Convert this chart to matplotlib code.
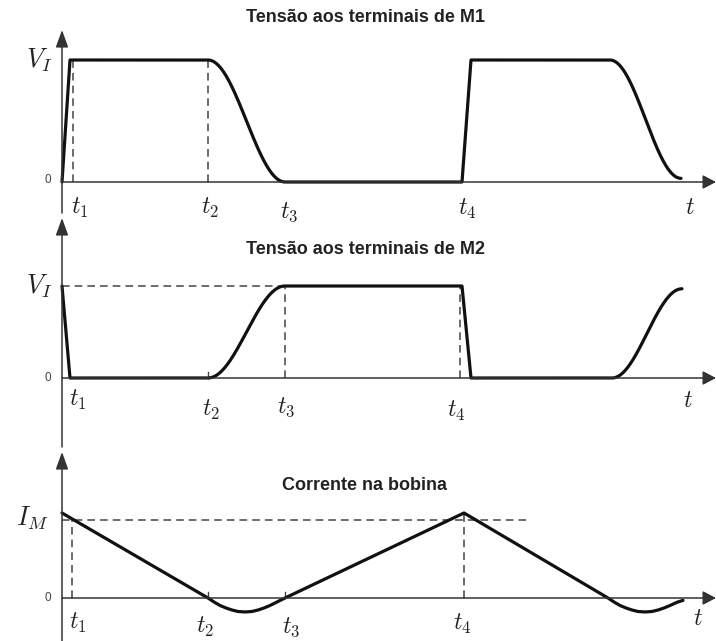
import numpy as np
import matplotlib
matplotlib.use("Agg")
import matplotlib.pyplot as plt

plt.rcParams["mathtext.fontset"] = "cm"

# tempos de comutação (mesma escala nos três gráficos)
t1, t2, t3, t4 = 1.1, 14.6, 22.3, 40.0

# tensão em M1: pontos de quebra e forma de cada troço
m1_t = [0.0, 0.8, 14.6, 22.3, 40.0, 40.9, 54.8, 61.9]
m1_v = [0.0, 1.0, 1.0, 0.0, 0.0, 1.0, 1.0, 0.03]
m1_shape = ["lin", "lin", "cos", "lin", "lin", "lin", "cos"]

# tensão em M2
m2_t = [0.0, 0.8, 14.6, 22.3, 40.0, 40.9, 55.0, 62.0]
m2_v = [1.0, 0.0, 0.0, 1.0, 1.0, 0.0, 0.0, 0.97]
m2_shape = ["lin", "lin", "cos", "lin", "lin", "lin", "cos"]

# corrente na bobina
i_t = [0.0, 14.6, 15.2, 15.8, 16.4, 17.0, 17.6, 18.3, 19.0, 19.6, 20.2, 20.8, 21.5, 22.3,
       40.2, 54.6, 55.2, 55.8, 56.4, 57.0, 57.6, 58.3, 59.0, 59.6, 60.2, 60.8, 61.5, 62.1]
i_v = [1.09, 0.0, -0.051, -0.096, -0.128, -0.154, -0.173, -0.179, -0.173, -0.154,
       -0.128, -0.096, -0.051, 0.0,
       1.09, 0.0, -0.051, -0.096, -0.128, -0.154, -0.173, -0.179, -0.173, -0.154,
       -0.128, -0.096, -0.055, -0.03]

W, H = 716, 641
X0 = 62          # posição do eixo vertical (px)
TS = 10.0        # px por unidade de tempo

fig = plt.figure(figsize=(W / 100, H / 100), dpi=100)

CURVE = dict(color="#111111", lw=2.3, solid_capstyle="round", solid_joinstyle="round")
DASH = dict(color="#444444", lw=1.1, dashes=(5, 3.3))
MATH = dict(fontsize=17, color="#222222")
BIG = dict(fontsize=19, color="#222222")
TITLE = dict(fontsize=13, fontweight="bold", family="Liberation Sans", color="#222222")
ZERO = dict(fontsize=8.5, family="Liberation Sans", color="#444444")


def panel(top, bottom, y0, y1):
    """Eixos que ocupam a faixa [top, bottom] (px); y0/y1 = px dos níveis 0 e 1."""
    ax = fig.add_axes([0, 1 - bottom / H, 1, (bottom - top) / H])
    s = y0 - y1
    ax.set_xlim(-X0 / TS, (W - X0) / TS)
    ax.set_ylim(-(bottom - y0) / s, (y0 - top) / s)
    ax.axis("off")
    py = lambda p: (y0 - p) / s
    return ax, py


def waveform(t, v, shape, n=80):
    xs, ys = [], []
    for i in range(len(t) - 1):
        u = np.linspace(0, 1, n)
        w = (1 - np.cos(np.pi * u)) / 2 if shape[i] == "cos" else u
        xs.append(t[i] + (t[i + 1] - t[i]) * u)
        ys.append(v[i] + (v[i + 1] - v[i]) * w)
    return np.concatenate(xs), np.concatenate(ys)


def axes_arrows(ax, py, y_top_px, y_bot_px, y_axis_px):
    arr = dict(arrowstyle="-|>,head_length=1.05,head_width=0.38", color="#333333",
               lw=1.1, shrinkA=0, shrinkB=0, mutation_scale=10)
    ax.annotate("", xy=(0, py(y_top_px)), xytext=(0, py(y_bot_px)),
                arrowprops=arr, annotation_clip=False)
    ax.annotate("", xy=((W - X0) / TS, py(y_axis_px)), xytext=(0, py(y_axis_px)),
                arrowprops=dict(arr, arrowstyle="-|>,head_length=0.8,head_width=0.42"),
                annotation_clip=False)


def tick(ax, x, h):
    ax.plot([x, x], [0, h], color="#444444", lw=1.0)


# ---------- Tensão aos terminais de M1 ----------
ax1, py1 = panel(0, 216, 182, 60)
axes_arrows(ax1, py1, 30, 213, 182)
ax1.plot([t1, t1], [0, 1], **DASH)
ax1.plot([t2, t2], [0, 1], **DASH)
x, y = waveform(m1_t, m1_v, m1_shape)
ax1.plot(x, y, **CURVE)
ax1.text(30.3, py1(17), "Tensão aos terminais de M1", ha="center", va="center", **TITLE)
ax1.text(-0.9, py1(60), r"$V_I$", ha="right", va="center", **BIG)
ax1.text(-1.45, py1(180), "0", ha="center", va="center", **ZERO)
for lab, xx, yy in [(r"$t_1$", 1.8, 208), (r"$t_2$", 14.8, 208), (r"$t_3$", 22.7, 212),
                    (r"$t_4$", 40.5, 209), (r"$t$", 62.8, 207)]:
    ax1.text(xx, py1(yy), lab, ha="center", va="center", **MATH)

# ---------- Tensão aos terminais de M2 ----------
ax2, py2 = panel(216, 450, 378, 286)
axes_arrows(ax2, py2, 218, 447, 378)
ax2.plot([0, t3], [1, 1], **DASH)
ax2.plot([t3, t3], [0, 1], **DASH)
ax2.plot([39.8, 39.8], [0, 1], **DASH)
tick(ax2, t2, 0.06)
x, y = waveform(m2_t, m2_v, m2_shape)
ax2.plot(x, y, **CURVE)
ax2.text(30.3, py2(250), "Tensão aos terminais de M2", ha="center", va="center", **TITLE)
ax2.text(-0.9, py2(286), r"$V_I$", ha="right", va="center", **BIG)
ax2.text(-1.45, py2(378), "0", ha="center", va="center", **ZERO)
for lab, xx, yy in [(r"$t_1$", 1.6, 400), (r"$t_2$", 14.9, 410), (r"$t_3$", 22.4, 407),
                    (r"$t_4$", 39.4, 411), (r"$t$", 62.6, 400)]:
    ax2.text(xx, py2(yy), lab, ha="center", va="center", **MATH)

# ---------- Corrente na bobina ----------
ax3, py3 = panel(450, 641, 598, 520)
axes_arrows(ax3, py3, 452, 641, 598)
ax3.plot([0, 46.5], [1, 1], **DASH)
ax3.plot([1.0, 1.0], [0, 1], **DASH)
ax3.plot([40.2, 40.2], [0, 1.09], **DASH)
tick(ax3, t2, 0.08)
tick(ax3, t3, 0.08)
ax3.plot(i_t, i_v, **CURVE)
ax3.text(30.3, py3(485), "Corrente na bobina", ha="center", va="center", **TITLE)
ax3.text(-1.3, py3(518), r"$I_M$", ha="right", va="center", **BIG)
ax3.text(-1.45, py3(598), "0", ha="center", va="center", **ZERO)
for lab, xx, yy in [(r"$t_1$", 1.6, 623), (r"$t_2$", 14.3, 627), (r"$t_3$", 22.9, 627),
                    (r"$t_4$", 40.0, 624), (r"$t$", 63.6, 618)]:
    ax3.text(xx, py3(yy), lab, ha="center", va="center", **MATH)

fig.savefig("out.png", dpi=100, facecolor="white")
